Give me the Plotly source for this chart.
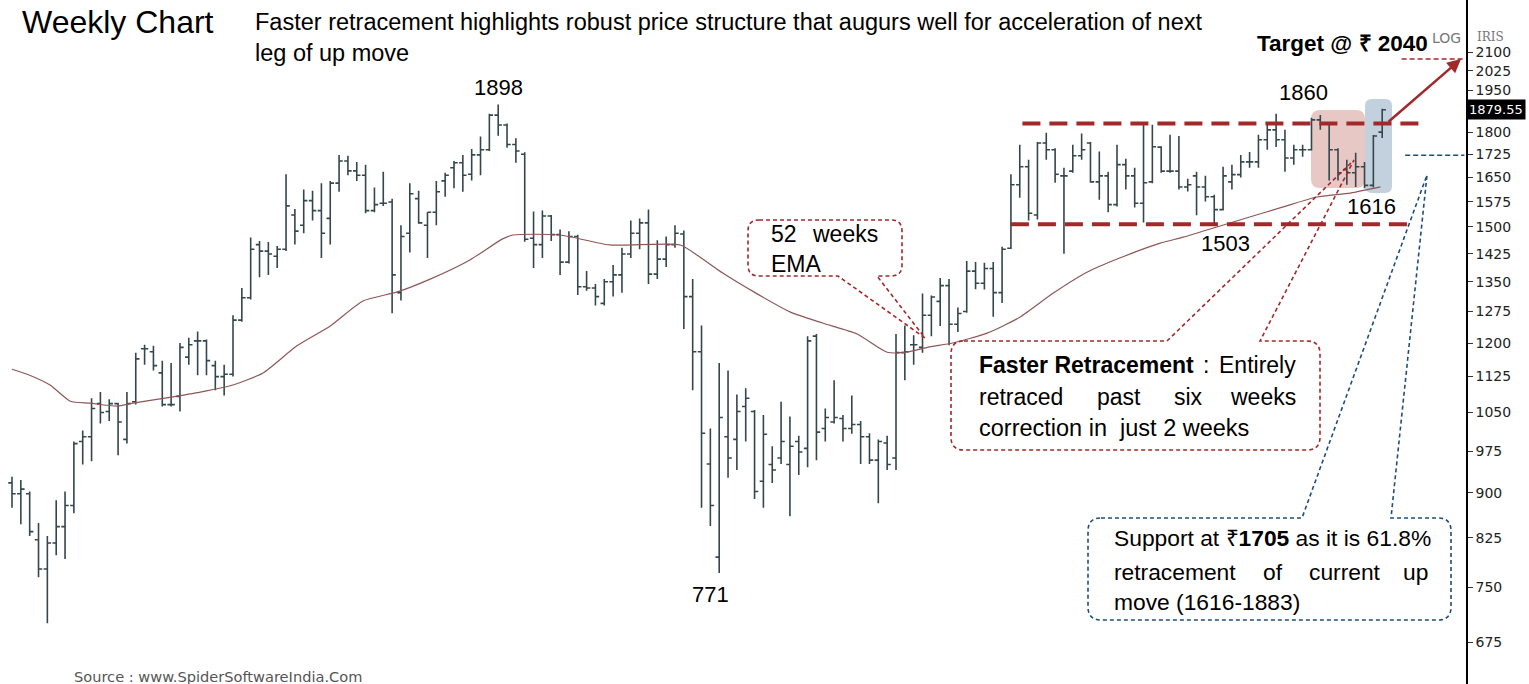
import math
import plotly.graph_objects as go

# ---------------- data ----------------
opens = [917, 898, 898, 822, 777, 817, 843, 878, 993, 1002, 1068, 1052, 1068, 997, 1072, 1187, 1180, 1133, 1066, 1083,
         1168, 1205, 1205, 1149, 1125, 1130, 1254, 1309, 1450, 1432, 1418, 1437, 1535, 1505, 1578, 1548, 1525, 1632, 1703, 1671,
         1657, 1548, 1570, 1574, 1322, 1482, 1584, 1505, 1543, 1639, 1681, 1697, 1660, 1723, 1740, 1860, 1825, 1758, 1725, 1468,
         1450, 1532, 1478, 1402, 1473, 1337, 1334, 1295, 1350, 1368, 1424, 1482, 1512, 1370, 1410, 1450, 1480, 1312, 1180, 951,
         795, 1002, 997, 1062, 1052, 920, 950, 962, 950, 993, 980, 1216, 1018, 1031, 1038, 1018, 1026, 1002, 958, 990,
         962, 1178, 1196, 1190, 1266, 1300, 1340, 1244, 1275, 1378, 1346, 1385, 1322, 1440, 1627, 1684, 1535, 1763, 1740, 1655,
         1670, 1720, 1763, 1636, 1655, 1566, 1691, 1655, 1570, 1636, 1749, 1670, 1670, 1620, 1655, 1620, 1590, 1551, 1636, 1659,
         1700, 1700, 1774, 1808, 1774, 1713, 1740, 1740, 1843, 1832, 1740, 1675, 1665, 1684, 1625, 1800]
highs = [928, 922, 902, 849, 828, 887, 902, 993, 1014, 1079, 1092, 1077, 1070, 1092, 1178, 1196, 1194, 1160, 1155, 1200,
         1212, 1227, 1208, 1160, 1151, 1266, 1334, 1470, 1460, 1457, 1446, 1660, 1553, 1612, 1608, 1632, 1639, 1723, 1720, 1700,
         1691, 1618, 1668, 1584, 1505, 1632, 1608, 1543, 1639, 1665, 1703, 1723, 1743, 1785, 1865, 1898, 1830, 1779, 1732, 1545,
         1548, 1535, 1493, 1488, 1478, 1378, 1344, 1357, 1394, 1441, 1519, 1525, 1551, 1462, 1473, 1505, 1490, 1357, 1241, 1018,
         1155, 1138, 1087, 1100, 1055, 1045, 984, 1072, 1042, 1004, 1216, 1221, 1058, 1117, 1045, 1085, 1033, 1009, 997, 1004,
         1221, 1241, 1218, 1320, 1315, 1360, 1357, 1285, 1405, 1402, 1400, 1402, 1444, 1660, 1757, 1707, 1766, 1798, 1745, 1681,
         1757, 1795, 1766, 1734, 1668, 1757, 1710, 1681, 1825, 1826, 1752, 1791, 1787, 1646, 1668, 1655, 1596, 1684, 1691, 1723,
         1733, 1791, 1832, 1865, 1808, 1757, 1757, 1851, 1860, 1835, 1745, 1707, 1730, 1700, 1790, 1883]
lows = [874, 847, 828, 765, 700, 798, 792, 865, 950, 956, 1028, 1033, 967, 989, 1066, 1151, 1138, 1062, 1062, 1052,
        1151, 1128, 1128, 1096, 1085, 1125, 1250, 1305, 1362, 1368, 1386, 1432, 1450, 1482, 1519, 1413, 1450, 1605, 1657, 1639,
        1540, 1543, 1562, 1271, 1302, 1428, 1509, 1413, 1505, 1590, 1616, 1605, 1640, 1657, 1736, 1788, 1747, 1697, 1458, 1386,
        1413, 1460, 1368, 1398, 1316, 1327, 1290, 1290, 1312, 1322, 1413, 1437, 1344, 1357, 1389, 1441, 1233, 1096, 874, 844,
        771, 926, 940, 993, 889, 874, 917, 951, 860, 931, 945, 958, 993, 1028, 993, 1008, 951, 951, 882, 940,
        940, 1117, 1151, 1178, 1216, 1240, 1195, 1226, 1272, 1331, 1330, 1262, 1296, 1438, 1587, 1519, 1522, 1707, 1633, 1425,
        1665, 1707, 1633, 1581, 1543, 1560, 1612, 1557, 1513, 1632, 1665, 1665, 1612, 1606, 1534, 1575, 1503, 1548, 1612, 1650,
        1681, 1681, 1740, 1749, 1668, 1691, 1717, 1738, 1808, 1640, 1640, 1627, 1620, 1616, 1618, 1780]
closes = [898, 906, 835, 777, 817, 843, 878, 989, 1002, 1058, 1050, 1068, 1031, 1068, 1164, 1187, 1149, 1066, 1066, 1190,
          1196, 1205, 1160, 1125, 1130, 1254, 1309, 1437, 1432, 1424, 1437, 1562, 1488, 1578, 1548, 1482, 1632, 1703, 1671, 1657,
          1548, 1566, 1570, 1368, 1473, 1599, 1512, 1543, 1605, 1657, 1697, 1657, 1723, 1740, 1860, 1825, 1758, 1736, 1465, 1450,
          1532, 1478, 1402, 1473, 1337, 1334, 1312, 1350, 1368, 1424, 1482, 1512, 1370, 1410, 1450, 1482, 1312, 1180, 1009, 878,
          1040, 962, 1052, 1079, 902, 1007, 940, 993, 984, 973, 1205, 1011, 1040, 1040, 1018, 1026, 1002, 958, 993, 950,
          1178, 1180, 1196, 1266, 1311, 1340, 1244, 1270, 1378, 1346, 1385, 1322, 1437, 1627, 1684, 1540, 1763, 1740, 1660, 1655,
          1720, 1740, 1636, 1655, 1566, 1691, 1655, 1570, 1633, 1750, 1670, 1670, 1620, 1627, 1620, 1590, 1551, 1655, 1659, 1700,
          1700, 1774, 1808, 1774, 1713, 1740, 1740, 1843, 1832, 1740, 1665, 1665, 1684, 1625, 1787, 1879.55]
weeks = list(range(len(opens)))

# 52-week EMA (week position, value)
ema_weeks = [0, 2.0, 4.3, 6.6, 8.8, 11.9, 13.7, 17.5, 21.3, 25.0, 28.4, 32.2, 36.0, 39.7, 43.6, 47.3, 51.8, 55.5, 56.7,
             62.0, 67.6, 75.6, 77.8, 80.4, 84.3, 88.0, 91.7, 95.6, 99.0, 101.2, 103.8, 106.4, 110.3, 114.0, 117.8, 121.6,
             125.3, 129.9, 132.5, 136.3, 140.0, 143.8, 147.6, 151.4, 154.8]
ema_vals = [1141, 1128, 1107, 1073, 1069, 1063, 1069, 1080, 1092, 1107, 1133, 1193, 1240, 1301, 1324, 1357, 1408, 1466, 1477,
            1477, 1449, 1449, 1416, 1373, 1319, 1274, 1247, 1221, 1179, 1179, 1191, 1200, 1223, 1261, 1321, 1375,
            1413, 1454, 1471, 1500, 1529, 1559, 1589, 1601, 1620]

resistance_level = 1830
support_level = 1508
target_mark_level = 2072
fib_support_level = 1722
y_ticks = [675, 750, 825, 900, 975, 1050, 1125, 1200, 1275, 1350, 1425, 1500, 1575, 1650, 1725, 1800, 1875, 1950, 2025, 2100]
y_tick_text = [str(v) for v in y_ticks]
y_tick_text[y_ticks.index(1875)] = ""

# ---------------- styling / layout helpers ----------------
BAR = "#33474D"
RED = "#A3282A"
BLUE = "#1F4E7A"
EMA_C = "#8E5757"
NARROW = "Liberation Sans Narrow, Arial Narrow, Liberation Sans, sans-serif"
PW, PH = 1466, 684  # plot area size in px


def px(x):
    return x / PW


def py(y):
    return 1 - y / PH


def P(x, y):
    return f"{px(x):.5f},{py(y):.5f}"


def bubble(x0, y0, x1, y1, r, edge=None, g0=None, g1=None, tip=None):
    d = f"M {P(x0 + r, y0)} "
    if edge == "top":
        d += f"L {P(g0, y0)} L {P(*tip)} L {P(g1, y0)} "
    d += f"L {P(x1 - r, y0)} Q {P(x1, y0)} {P(x1, y0 + r)} L {P(x1, y1 - r)} Q {P(x1, y1)} {P(x1 - r, y1)} "
    if edge == "bottom":
        d += f"L {P(g1, y1)} L {P(*tip)} L {P(g0, y1)} "
    d += f"L {P(x0 + r, y1)} Q {P(x0, y1)} {P(x0, y1 - r)} L {P(x0, y0 + r)} Q {P(x0, y0)} {P(x0 + r, y0)} Z"
    return d


fig = go.Figure()
fig.add_trace(go.Ohlc(
    x=weeks, open=opens, high=highs, low=lows, close=closes,
    increasing=dict(line=dict(color=BAR, width=1.6)),
    decreasing=dict(line=dict(color=BAR, width=1.6)),
    tickwidth=0.42, hoverinfo="skip", showlegend=False,
))
fig.add_trace(go.Scatter(x=ema_weeks, y=ema_vals, mode="lines",
                         line=dict(color=EMA_C, width=1.2, shape="spline", smoothing=0.6),
                         hoverinfo="skip", showlegend=False))
# horizontal levels
fig.add_trace(go.Scatter(x=[114.3, 159.6], y=[resistance_level] * 2, mode="lines",
                         line=dict(color=RED, width=4, dash="18px,9px"), hoverinfo="skip", showlegend=False))
fig.add_trace(go.Scatter(x=[113.0, 158.5], y=[support_level] * 2, mode="lines",
                         line=dict(color=RED, width=4, dash="18px,9px"), hoverinfo="skip", showlegend=False))
fig.add_trace(go.Scatter(x=[157.2, 164.3], y=[target_mark_level] * 2, mode="lines",
                         line=dict(color=RED, width=1.5, dash="5px,3px"), hoverinfo="skip", showlegend=False))
fig.add_trace(go.Scatter(x=[157.6, 164.3], y=[fib_support_level] * 2, mode="lines",
                         line=dict(color=BLUE, width=1.5, dash="5px,3px"), hoverinfo="skip", showlegend=False))

shapes = [
    # highlight boxes
    dict(type="path", path=bubble(1311, 110, 1365, 188, 9), xref="paper", yref="paper",
         fillcolor="rgba(196,118,108,0.40)", line=dict(width=0), layer="below"),
    dict(type="path", path=bubble(1365, 99, 1392, 193, 7), xref="paper", yref="paper",
         fillcolor="rgba(112,143,173,0.42)", line=dict(width=0), layer="below"),
    # callouts
    dict(type="path", path=bubble(748, 220, 902, 276, 11, "bottom", 838, 877, (925, 338)),
         xref="paper", yref="paper", line=dict(color=RED, width=1.6, dash="4px,3px")),
    dict(type="path", path=bubble(951, 341, 1320, 450, 13, "top", 1167, 1260, (1354, 160)),
         xref="paper", yref="paper", line=dict(color=RED, width=1.6, dash="4px,3px")),
    dict(type="path", path=bubble(1088, 518, 1451, 620, 13, "top", 1302, 1391, (1427, 175)),
         xref="paper", yref="paper", line=dict(color=BLUE, width=1.6, dash="4px,3px")),
]

ann = []


def txt(x, y, text, size=22, anchor="left", color="black", family=NARROW, **kw):
    ann.append(dict(x=px(x), y=py(y), xref="paper", yref="paper", text=text, showarrow=False,
                    xanchor=anchor, yanchor="middle", font=dict(size=size, color=color, family=family), **kw))


txt(20, 22, "Weekly Chart", size=32, family="Liberation Sans, Arial, sans-serif")
txt(253, 22, "Faster retracement highlights robust price structure that augurs well for acceleration of next", size=23.5)
txt(253, 53, "leg of up move", size=23.5)
txt(498, 87, "1898", 22, "center")
txt(710, 594, "771", 22, "center")
txt(1303, 93, "1860", 22, "center")
txt(1225, 243, "1503", 22, "center")
txt(1371, 206, "1616", 22, "center")
txt(1255, 43, "<b>Target @ ₹ 2040</b>", 22.5)
txt(769, 234, "52", 23)
txt(880, 234, "weeks", 23, "right")
txt(769, 264, "EMA", 23)
txt(977, 365, "<b>Faster Retracement</b>", 23)
txt(1206, 365, ":", 23, "center")
txt(1298, 365, "Entirely", 23, "right")
txt(977, 397, "retraced", 23)
txt(1095, 397, "past", 23)
txt(1172, 397, "six", 23)
txt(1298, 397, "weeks", 23, "right")
txt(977, 428, "correction in  just 2 weeks", 23.5)
txt(1112, 538, "Support at ₹<b>1705</b> as it is 61.8%", 22.8)
txt(1112, 572, "retracement", 22.8)
txt(1261, 572, "of", 22.8)
txt(1307, 572, "current", 22.8)
txt(1430, 572, "up", 22.8, "right")
txt(1112, 602, "move (1616-1883)", 22.8)
txt(72, 676, "Source : www.SpiderSoftwareIndia.Com", 14.6, color="#555555", family="DejaVu Sans, sans-serif")
txt(1446, 38, "LOG", 14, "center", color="#777777", family="DejaVu Sans, sans-serif")
txt(1490, 37, "IRIS", 12, "center", color="#777777", family="DejaVu Serif, serif")

# target arrow
ann.append(dict(x=px(1461), y=py(59), xref="paper", yref="paper", ax=1387 - 1461, ay=123 - 59,
                axref="pixel", ayref="pixel", text="", showarrow=True, arrowhead=2, arrowsize=1.1,
                arrowwidth=2.5, arrowcolor=RED))
# last price tag
ann.append(dict(x=1, y=math.log10(closes[-1]), xref="paper", yref="y", text=f"{closes[-1]:.2f}",
                showarrow=False, xanchor="left", yanchor="middle", bgcolor="black", borderpad=2,
                font=dict(size=13, color="white", family="DejaVu Sans, sans-serif")))

fig.update_layout(
    width=1529, height=684,
    margin=dict(l=0, r=1529 - PW, t=0, b=0),
    paper_bgcolor="white", plot_bgcolor="white",
    showlegend=False,
    shapes=shapes, annotations=ann,
    xaxis=dict(range=[-1.357, 164.48], visible=False, rangeslider=dict(visible=False), fixedrange=True),
    yaxis=dict(type="log", range=[math.log10(622.9), math.log10(2320.9)], side="right",
               tickvals=y_ticks, ticktext=y_tick_text, showgrid=False, zeroline=False,
               showline=True, linecolor="black", linewidth=1.5, ticks="outside", ticklen=5,
               tickcolor="#333333", tickfont=dict(size=14, color="#222222", family="DejaVu Sans, sans-serif"),
               fixedrange=True),
)

fig.write_html("out.html", config={"displayModeBar": False},
               post_script="document.body.style.margin='0px';")
